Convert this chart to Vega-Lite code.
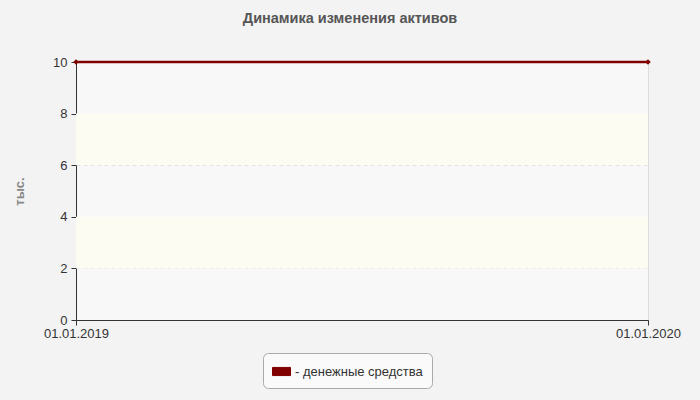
{
  "$schema": "https://vega.github.io/schema/vega-lite/v6.json",
  "width": 572,
  "height": 258,
  "autosize": {"type": "none"},
  "padding": {"left": 76, "top": 62, "right": 52, "bottom": 80},
  "background": "#f3f3f3",
  "title": {
    "text": "Динамика изменения активов",
    "font": "Liberation Sans",
    "fontSize": 14.5,
    "fontWeight": "bold",
    "color": "#555555",
    "anchor": "middle",
    "dx": -12,
    "offset": 30
  },
  "config": {
    "view": {"fill": "#f8f8f8", "stroke": "#dddddd", "strokeWidth": 1},
    "axis": {
      "labelFont": "Liberation Sans",
      "labelFontSize": 13,
      "labelColor": "#333333",
      "domainColor": "#333333",
      "tickColor": "#333333",
      "tickSize": 5
    }
  },
  "datasets": {
    "series": [
      {"date": "2019-01-01", "value": 10, "name": "денежные средства"},
      {"date": "2020-01-01", "value": 10, "name": "денежные средства"}
    ],
    "bands": [
      {"lo": 2, "hi": 4},
      {"lo": 6, "hi": 8}
    ]
  },
  "layer": [
    {
      "data": {"name": "bands"},
      "mark": {"type": "rect", "fill": "#fcfcf3"},
      "encoding": {
        "y": {"field": "lo", "type": "quantitative", "scale": {"domain": [0, 10]}},
        "y2": {"field": "hi"}
      }
    },
    {
      "data": {"name": "series"},
      "mark": {"type": "line", "strokeWidth": 2.5, "point": {"shape": "diamond", "size": 30, "filled": true}},
      "encoding": {
        "x": {
          "field": "date",
          "type": "temporal",
          "title": null,
          "scale": {"domain": ["2019-01-01", "2020-01-01"], "nice": false},
          "axis": {
            "values": [{"year": 2019, "month": 1, "date": 1}, {"year": 2020, "month": 1, "date": 1}],
            "format": "%d.%m.%Y",
            "labelFlush": false,
            "labelPadding": 2,
            "grid": false
          }
        },
        "y": {
          "field": "value",
          "type": "quantitative",
          "title": "тыс.",
          "scale": {"domain": [0, 10], "nice": false},
          "axis": {
            "values": [0, 2, 4, 6, 8, 10],
            "grid": true,
            "gridColor": "#dddddd",
            "gridDash": [4, 3],
            "labelPadding": 4,
            "titleFont": "Liberation Sans",
            "titleFontSize": 13,
            "titleFontWeight": "bold",
            "titleColor": "#888888",
            "titlePadding": 26
          }
        },
        "color": {
          "field": "name",
          "type": "nominal",
          "title": null,
          "scale": {"range": ["#800000"]},
          "legend": {
            "orient": "none",
            "legendX": 187,
            "legendY": 291,
            "direction": "horizontal",
            "fillColor": "#fafafa",
            "strokeColor": "#aaaaaa",
            "cornerRadius": 5,
            "padding": 9,
            "symbolType": "M-1,-0.45H1V0.45H-1Z",
            "symbolSize": 324,
            "symbolStrokeColor": "#777777",
            "symbolStrokeWidth": 1,
            "labelFont": "Liberation Sans",
            "labelFontSize": 13,
            "labelColor": "#333333",
            "labelExpr": "'- ' + datum.label",
            "labelOffset": 4
          }
        }
      }
    }
  ]
}
